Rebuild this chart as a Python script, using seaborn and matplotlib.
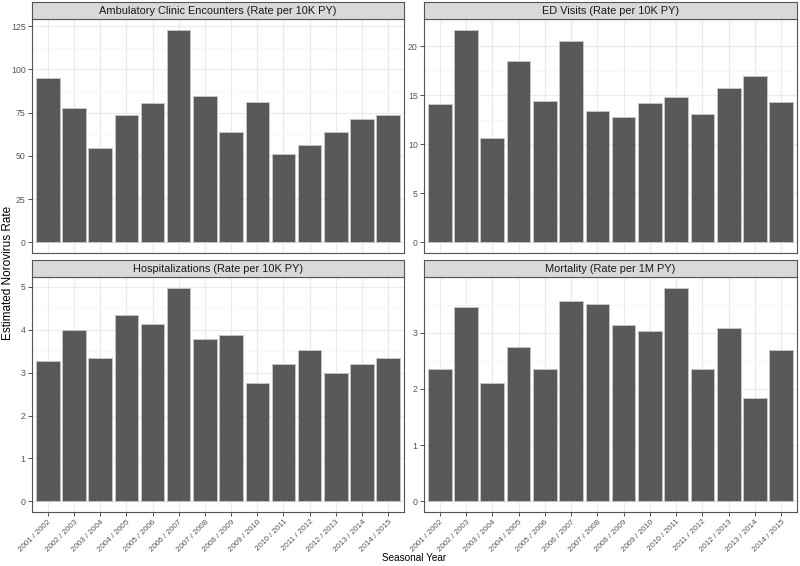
import matplotlib
matplotlib.use("Agg")
import matplotlib.pyplot as plt
import seaborn as sns
import pandas as pd
import numpy as np

sns.set_style("white")
plt.rcParams["font.family"] = ["Liberation Sans", "DejaVu Sans"]

# data
seasons = ["2001 / 2002", "2002 / 2003", "2003 / 2004", "2004 / 2005", "2005 / 2006",
           "2006 / 2007", "2007 / 2008", "2008 / 2009", "2009 / 2010", "2010 / 2011",
           "2011 / 2012", "2012 / 2013", "2013 / 2014", "2014 / 2015"]
ambulatory = [95.2, 77.5, 54.8, 73.7, 80.8, 122.9, 84.8, 63.5, 81.3, 51.3, 56.2, 63.8, 71.2, 73.8]
ed_visits = [14.1, 21.7, 10.6, 18.5, 14.4, 20.5, 13.4, 12.8, 14.25, 14.8, 13.1, 15.7, 17.0, 14.3]
hospitalizations = [3.26, 4.0, 3.34, 4.34, 4.14, 4.98, 3.78, 3.88, 2.75, 3.19, 3.53, 2.98, 3.2, 3.33]
mortality = [2.35, 3.45, 2.11, 2.74, 2.35, 3.56, 3.51, 3.13, 3.03, 3.80, 2.35, 3.08, 1.84, 2.69]

panel_titles = ["Ambulatory Clinic Encounters (Rate per 10K PY)", "ED Visits (Rate per 10K PY)",
                "Hospitalizations (Rate per 10K PY)", "Mortality (Rate per 1M PY)"]
panel_values = [ambulatory, ed_visits, hospitalizations, mortality]
y_ticks = [np.arange(0, 126, 25), np.arange(0, 21, 5), np.arange(0, 6, 1), np.arange(0, 4, 1)]

W, H = 800, 566
fig = plt.figure(figsize=(W / 100, H / 100), dpi=100)

# panel boxes in pixels: (left, right, strip_top, axes_top, axes_bottom)
boxes = [(32, 404, 2, 19, 253), (424, 797, 2, 19, 253),
         (32, 404, 260, 277, 512), (424, 797, 260, 277, 512)]

border = "#333333"
for i, (title, vals, ticks, box) in enumerate(zip(panel_titles, panel_values, y_ticks, boxes)):
    l, r, st, at, ab = box
    ax = fig.add_axes([l / W, 1 - ab / H, (r - l) / W, (ab - at) / H])
    df = pd.DataFrame({"season": seasons, "rate": vals})
    sns.barplot(data=df, x="season", y="rate", color="#595959", saturation=1,
                width=0.9, edgecolor="#c8c8c8", linewidth=0.6, ax=ax, zorder=3)
    top = max(vals)
    ax.set_ylim(-0.05 * top, top * 1.05)
    ax.set_xlim(-0.6, len(seasons) - 0.4)
    ax.set_yticks(ticks)
    minor = (ticks[:-1] + ticks[1:]) / 2
    if ticks[-1] + (ticks[1] - ticks[0]) / 2 < top * 1.05:
        minor = np.append(minor, ticks[-1] + (ticks[1] - ticks[0]) / 2)
    ax.set_yticks(minor, minor=True)
    ax.grid(True, which="major", color="#EBEBEB", linewidth=0.9, zorder=0)
    ax.grid(True, which="minor", axis="y", color="#F4F4F4", linewidth=0.5, zorder=0)
    ax.set_axisbelow(True)
    ax.set_xlabel("")
    ax.set_ylabel("")
    for s in ax.spines.values():
        s.set_color("#555555")
        s.set_linewidth(0.8)
    ax.tick_params(axis="y", which="major", length=3, width=0.6, color=border,
                   labelsize=6.3, labelcolor="#555555", pad=1.5, left=True)
    ax.tick_params(axis="y", which="minor", length=0)
    if i >= 2:
        ax.tick_params(axis="x", length=3, width=0.6, color=border, labelsize=5.8,
                       labelcolor="#555555", pad=1.5, bottom=True)
        plt.setp(ax.get_xticklabels(), rotation=45, ha="right", rotation_mode="anchor")
    else:
        ax.tick_params(axis="x", length=0, labelbottom=False)

    # facet strip
    sax = fig.add_axes([l / W, 1 - at / H, (r - l) / W, (at - st) / H])
    sax.set_facecolor("#D9D9D9")
    sax.set_xticks([])
    sax.set_yticks([])
    for s in sax.spines.values():
        s.set_color("#555555")
        s.set_linewidth(0.8)
    sax.text(0.5, 0.45, title, ha="center", va="center", fontsize=7.9, color="#1A1A1A",
             transform=sax.transAxes)

fig.text(8 / W, 1 - 273 / H, "Estimated Norovirus Rate", rotation=90, ha="center",
         va="center", fontsize=8.5, color="black")
fig.text(414 / W, 1 - 558 / H, "Seasonal Year", ha="center", va="center",
         fontsize=7.2, color="black")

fig.savefig("out.png", dpi=100)
